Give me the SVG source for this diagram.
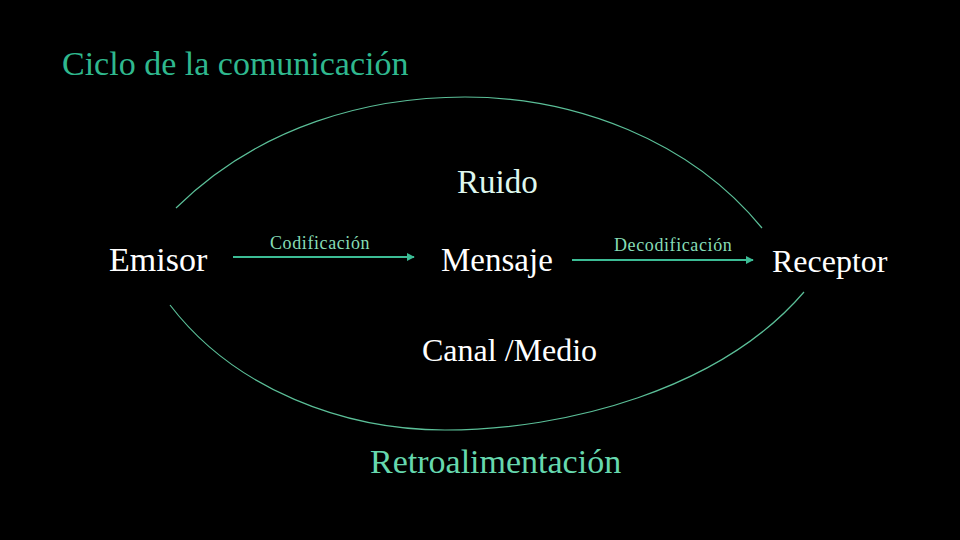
<svg xmlns="http://www.w3.org/2000/svg" width="960" height="540" viewBox="0 0 960 540">
<style>
text{font-family:"Liberation Serif","DejaVu Serif","Noto Serif",serif}
.big{font-size:32px;fill:#ffffff}
.lbl{font-size:18px;fill:#86dcb6;letter-spacing:0.6px}
.arc{fill:none;stroke:#5bbf98;stroke-width:1.2}
.arr{stroke:#3cbc95;stroke-width:2;fill:none;marker-end:url(#ah)}
</style>
<defs>
<marker id="ah" viewBox="0 0 10 10" refX="9" refY="5" markerWidth="4" markerHeight="4" orient="auto" markerUnits="strokeWidth">
<path d="M0,0 L10,5 L0,10 z" fill="#3cbc95"/>
</marker>
</defs>
<rect width="960" height="540" fill="#000"/>
<text x="62" y="75" font-size="34" fill="#2fb88e">Ciclo de la comunicación</text>
<g id="connectors">
<path class="arc" d="M176,208 C260,125 370,97 465,97 C575,97 690,140 762,228"/>
<path class="arc" d="M170,305 C235,390 345,430 445,430 C565,430 720,390 804,292"/>
<line class="arr" x1="233" y1="257" x2="414" y2="257"/>
<line class="arr" x1="572" y1="260" x2="753" y2="260"/>
<text class="lbl" x="270" y="249">Codificación</text>
<text class="lbl" x="614" y="251">Decodificación</text>
</g>
<g id="ruido"><text class="big" x="457" y="193" font-size="33" style="fill:#dff7ee;font-size:33px">Ruido</text></g>
<g id="emisor"><text class="big" x="109" y="271" style="font-size:34px">Emisor</text></g>
<g id="mensaje"><text class="big" x="441" y="271" style="font-size:33px">Mensaje</text></g>
<g id="receptor"><text class="big" x="772" y="272">Receptor</text></g>
<g id="canal"><text class="big" x="422" y="361">Canal /Medio</text></g>
<g id="retro"><text x="370" y="473" font-size="34" fill="#66d8ae">Retroalimentación</text></g>
</svg>
